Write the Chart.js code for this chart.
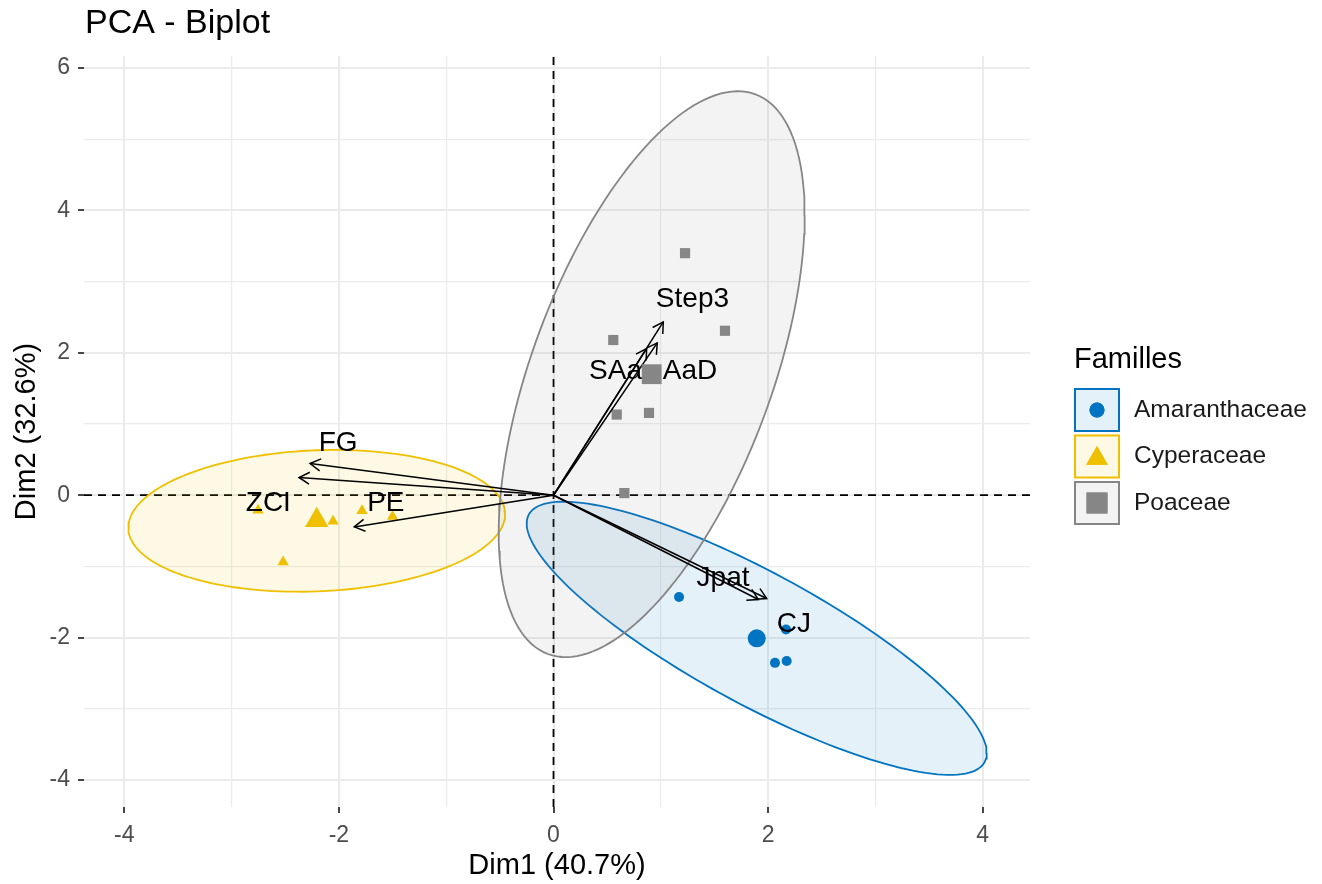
<!DOCTYPE html>
<html><head><meta charset="utf-8">
<script src="https://cdn.jsdelivr.net/npm/chart.js@4.4.1/dist/chart.umd.min.js"></script>
<style>html,body{margin:0;padding:0;background:#fff;}canvas{display:block;}</style>
</head><body>
<canvas id="c" width="1322" height="884"></canvas>
<script>
// ---------- data ----------
const chartTitle = 'PCA - Biplot';
const xAxisTitle = 'Dim1 (40.7%)';
const yAxisTitle = 'Dim2 (32.6%)';
const legendTitle = 'Familles';
const families = ['Amaranthaceae', 'Cyperaceae', 'Poaceae'];
const familyColors = ['#0073C2', '#EFC000', '#868686'];
const familyShapes = ['circle', 'triangle', 'rect'];

// individuals
const amaranthX = [1.17, 2.064, 2.173, 2.167];
const amaranthY = [-1.43, -2.355, -2.33, -1.886];
const cyperX = [-2.754, -2.055, -1.785, -1.50, -2.52];
const cyperY = [-0.21, -0.365, -0.22, -0.30, -0.94];
const poaX = [1.226, 1.598, 0.557, 0.589, 0.890, 0.660];
const poaY = [3.40, 2.31, 2.18, 1.133, 1.156, 0.03];

// group means (large markers)
const meanX = [1.894, -2.207, 0.915];
const meanY = [-2.01, -0.35, 1.70];

// concentration ellipses: centre, half extents along x / y, correlation
const ellipseCenterX = [1.894, -2.207, 0.915];
const ellipseCenterY = [-2.01, -0.36, 1.70];
const ellipseHalfX = [2.144, 1.756, 1.426];
const ellipseHalfY = [1.919, 0.996, 3.975];
const ellipseCorr = [-0.840, 0.0955, 0.562];

// variables (arrows)
const varNames = ['FG', 'ZCI', 'PE', 'Step3', 'SAa', 'AaD', 'Jpat', 'CJ'];
const varX = [-2.269, -2.372, -1.857, 1.023, 0.868, 0.967, 1.909, 1.987];
const varY = [0.445, 0.249, -0.445, 2.434, 2.06, 2.139, -1.465, -1.451];
const varLabelX = [-2.008, -2.658, -1.563, 1.295, 0.578, 1.272, 1.580, 2.241];
const varLabelY = [0.725, -0.117, -0.117, 2.755, 1.744, 1.744, -1.166, -1.815];

// axes
const xGridValues = [-4, -3, -2, -1, 0, 1, 2, 3, 4];
const yGridValues = [-4, -3, -2, -1, 0, 1, 2, 3, 4, 5, 6];
const xTickLabels = [-4, -2, 0, 2, 4];
const yTickLabels = [-4, -2, 0, 2, 4, 6];
const xRange = [-4.376, 4.441];
const yRange = [-4.38, 6.17];

// ---------- helpers ----------
const FONT = "'Liberation Sans', Arial, Helvetica, sans-serif";
Chart.defaults.font.family = FONT;
function rgba(hex, a) {
  const n = parseInt(hex.slice(1), 16);
  return `rgba(${(n >> 16) & 255},${(n >> 8) & 255},${n & 255},${a})`;
}
function zip(xs, ys) { return xs.map((x, i) => ({ x, y: ys[i] })); }
function ellipsePoints(i) {
  const pts = [], n = 160, r = ellipseCorr[i], s = Math.sqrt(1 - r * r);
  for (let k = 0; k <= n; k++) {
    const t = 2 * Math.PI * k / n;
    pts.push({
      x: ellipseCenterX[i] + ellipseHalfX[i] * Math.cos(t),
      y: ellipseCenterY[i] + ellipseHalfY[i] * (r * Math.cos(t) + s * Math.sin(t))
    });
  }
  return pts;
}

const groupX = [amaranthX, cyperX, poaX];
const groupY = [amaranthY, cyperY, poaY];
const smallRadius = [5, 6.5, 7.2];
const bigRadius = [9, 13.5, 14];

const datasets = [];
families.forEach((f, i) => {
  datasets.push({
    label: f + ' ellipse', data: ellipsePoints(i), showLine: true, tension: 0,
    borderColor: familyColors[i], borderWidth: 1.8, pointRadius: 0,
    backgroundColor: rgba(familyColors[i], 0.1), fill: 'shape', order: 60 - i
  });
});
families.forEach((f, i) => {
  datasets.push({
    label: f, data: zip(groupX[i], groupY[i]), pointStyle: familyShapes[i],
    pointRadius: smallRadius[i], backgroundColor: familyColors[i], borderWidth: 0, order: 40
  });
});
varNames.forEach((v, i) => {
  datasets.push({
    label: v, data: [{ x: 0, y: 0 }, { x: varX[i], y: varY[i] }], showLine: true,
    borderColor: '#000', borderWidth: 1.5, pointRadius: 0, order: 30 - i * 0.1, arrowIndex: i
  });
});
families.forEach((f, i) => {
  datasets.push({
    label: f + ' mean', data: [{ x: meanX[i], y: meanY[i] }], pointStyle: familyShapes[i],
    pointRadius: bigRadius[i], backgroundColor: familyColors[i], borderWidth: 0, order: 10
  });
});

const biplotPlugin = {
  id: 'biplot',
  beforeDatasetsDraw(chart) {
    const { ctx, chartArea: a, scales: { x, y } } = chart;
    const x0 = x.getPixelForValue(0), y0 = y.getPixelForValue(0);
    ctx.save();
    ctx.strokeStyle = '#000'; ctx.lineWidth = 1.8; ctx.setLineDash([8, 6]);
    ctx.beginPath(); ctx.moveTo(x0, a.bottom); ctx.lineTo(x0, a.top); ctx.stroke();
    ctx.beginPath(); ctx.moveTo(a.left, y0); ctx.lineTo(a.right, y0); ctx.stroke();
    ctx.restore();
  },
  afterDatasetDraw(chart, args) {
    const ds = chart.data.datasets[args.index];
    if (ds.arrowIndex === undefined) return;
    const i = ds.arrowIndex;
    const { ctx, scales: { x, y } } = chart;
    const x0 = x.getPixelForValue(0), y0 = y.getPixelForValue(0);
    const x1 = x.getPixelForValue(varX[i]), y1 = y.getPixelForValue(varY[i]);
    const ang = Math.atan2(y1 - y0, x1 - x0), L = 12, h = Math.PI / 6;
    ctx.save();
    ctx.strokeStyle = '#000'; ctx.lineWidth = 1.5;
    ctx.beginPath();
    ctx.moveTo(x1 - L * Math.cos(ang - h), y1 - L * Math.sin(ang - h));
    ctx.lineTo(x1, y1);
    ctx.lineTo(x1 - L * Math.cos(ang + h), y1 - L * Math.sin(ang + h));
    ctx.stroke();
    ctx.fillStyle = '#000';
    ctx.font = `28px ${FONT}`;
    ctx.textAlign = 'center'; ctx.textBaseline = 'middle';
    ctx.fillText(varNames[i], x.getPixelForValue(varLabelX[i]), y.getPixelForValue(varLabelY[i]));
    ctx.restore();
  },
  afterDraw(chart) {
    const { ctx } = chart;
    ctx.save();
    // title
    ctx.fillStyle = '#000';
    ctx.font = `34px ${FONT}`;
    ctx.textAlign = 'left'; ctx.textBaseline = 'middle';
    ctx.fillText(chartTitle, 85, 24);
    // legend
    ctx.font = `29px ${FONT}`;
    ctx.fillText(legendTitle, 1074, 360);
    const keyX = 1075, keyW = 44, keyH = 42;
    families.forEach((f, i) => {
      const top = 389 + i * 46.5;
      ctx.fillStyle = '#fff';
      ctx.fillRect(keyX, top, keyW, keyH);
      ctx.fillStyle = rgba(familyColors[i], 0.1);
      ctx.fillRect(keyX, top, keyW, keyH);
      ctx.strokeStyle = familyColors[i]; ctx.lineWidth = 2;
      ctx.strokeRect(keyX, top, keyW, keyH);
      Chart.helpers.drawPoint(ctx, {
        pointStyle: familyShapes[i], rotation: 0,
        radius: [7.5, 12.5, 14.8][i], borderWidth: 0
      }, keyX + keyW / 2, top + keyH / 2 + (i === 1 ? 2 : 0));
      ctx.fillStyle = familyColors[i];
      ctx.beginPath();
      Chart.helpers.drawPoint(ctx, {
        pointStyle: familyShapes[i], rotation: 0,
        radius: [7.5, 12.5, 14.8][i], borderWidth: 0
      }, keyX + keyW / 2, top + keyH / 2 + (i === 1 ? 2 : 0));
      ctx.fill();
      ctx.fillStyle = '#1A1A1A';
      ctx.font = `24.5px ${FONT}`;
      ctx.textBaseline = 'middle';
      ctx.fillText(f, 1134, top + keyH / 2);
    });
    ctx.restore();
  }
};

const isMajorX = v => xTickLabels.includes(v);
const isMajorY = v => yTickLabels.includes(v);

new Chart(document.getElementById('c'), {
  type: 'scatter',
  data: { datasets },
  options: {
    responsive: false, animation: false, events: [],
    layout: { padding: { left: 0, right: 292, top: 56, bottom: 0 } },
    plugins: { legend: { display: false }, tooltip: { enabled: false }, title: { display: false } },
    scales: {
      x: {
        type: 'linear', min: xRange[0], max: xRange[1],
        afterBuildTicks: s => { s.ticks = xGridValues.map(v => ({ value: v })); },
        afterFit: s => { s.height = 77; },
        ticks: {
          autoSkip: false, maxRotation: 0, padding: 9, color: '#4D4D4D',
          font: { size: 23 }, callback: v => isMajorX(v) ? String(v) : ''
        },
        grid: {
          color: '#EBEBEB',
          lineWidth: c => (c.tick && isMajorX(c.tick.value)) ? 2 : 1.2,
          drawTicks: true, tickLength: 6, tickWidth: 1.8,
          tickColor: c => (c.tick && isMajorX(c.tick.value)) ? '#333333' : 'rgba(0,0,0,0)'
        },
        border: { display: false },
        title: { display: true, text: xAxisTitle, color: '#000', font: { size: 29 }, padding: { top: 0, bottom: 1 } }
      },
      y: {
        type: 'linear', min: yRange[0], max: yRange[1],
        afterBuildTicks: s => { s.ticks = yGridValues.map(v => ({ value: v })); },
        afterFit: s => { s.width = 84; },
        ticks: {
          autoSkip: false, padding: 8, color: '#4D4D4D',
          font: { size: 23 }, callback: v => isMajorY(v) ? String(v) : ''
        },
        grid: {
          color: '#EBEBEB',
          lineWidth: c => (c.tick && isMajorY(c.tick.value)) ? 2 : 1.2,
          drawTicks: true, tickLength: 6, tickWidth: 1.8,
          tickColor: c => (c.tick && isMajorY(c.tick.value)) ? '#333333' : 'rgba(0,0,0,0)'
        },
        border: { display: false },
        title: { display: true, text: yAxisTitle, color: '#000', font: { size: 29 }, padding: { top: 10, bottom: 0 } }
      }
    }
  },
  plugins: [biplotPlugin]
});
</script>
</body></html>
